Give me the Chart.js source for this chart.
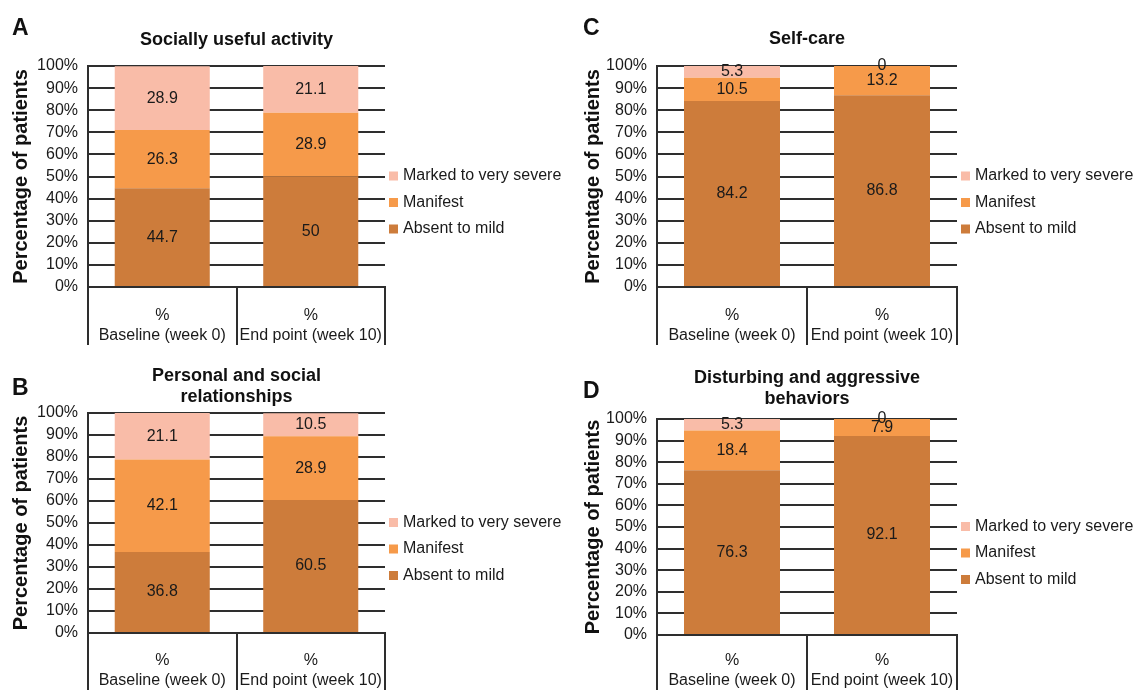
<!DOCTYPE html>
<html>
<head>
<meta charset="utf-8">
<title>Severity by domain</title>
<script src="https://cdn.jsdelivr.net/npm/chart.js@4.4.1/dist/chart.umd.min.js"></script>
<style>
  body { margin: 0; background: #fff; width: 1136px; height: 690px; position: relative; overflow: hidden; font-family: "Liberation Sans", Arial, sans-serif; }
  .panel { position: absolute; width: 568px; height: 345px; }
  .letter { position: absolute; font-weight: bold; font-size: 23px; line-height: 23px; color: #111; }
</style>
</head>
<body>
<div class="panel" style="left:0;top:0"><canvas id="chartA" width="568" height="345"></canvas></div>
<div class="panel" style="left:568px;top:0"><canvas id="chartC" width="568" height="345"></canvas></div>
<div class="panel" style="left:0;top:345px"><canvas id="chartB" width="568" height="345"></canvas></div>
<div class="panel" style="left:568px;top:345px"><canvas id="chartD" width="568" height="345"></canvas></div>
<div class="letter" style="left:12px;top:16px">A</div>
<div class="letter" style="left:583px;top:16px">C</div>
<div class="letter" style="left:12px;top:376px">B</div>
<div class="letter" style="left:583px;top:379px">D</div>

<script>
// categories and series (percent of patients)
const categories = ['Baseline (week 0)', 'End point (week 10)'];
const severityLabels = ['Absent to mild', 'Manifest', 'Marked to very severe'];

const socialAbsent = [44.7, 50];
const socialManifest = [26.3, 28.9];
const socialMarked = [28.9, 21.1];

const relationsAbsent = [36.8, 60.5];
const relationsManifest = [42.1, 28.9];
const relationsMarked = [21.1, 10.5];

const selfCareAbsent = [84.2, 86.8];
const selfCareManifest = [10.5, 13.2];
const selfCareMarked = [5.3, 0];

const behaviorAbsent = [76.3, 92.1];
const behaviorManifest = [18.4, 7.9];
const behaviorMarked = [5.3, 0];

const severityColors = ['#CD7C3B', '#F69A4A', '#F9BCA8'];
const FONT = '"Liberation Sans", Arial, sans-serif';
const INK = '#1a1a1a';
const LINE = '#2e2e2e';

Chart.defaults.font.family = FONT;
Chart.defaults.color = INK;

// numbers in the middle of each stacked segment
const valueLabels = {
  id: 'valueLabels',
  afterDatasetsDraw(chart) {
    const ctx = chart.ctx;
    ctx.save();
    ctx.font = '16px ' + FONT;
    ctx.fillStyle = INK;
    ctx.textAlign = 'center';
    ctx.textBaseline = 'middle';
    chart.data.datasets.forEach((ds, i) => {
      chart.getDatasetMeta(i).data.forEach((bar, j) => {
        ctx.fillText(String(ds.data[j]), bar.x, (bar.y + bar.base) / 2);
      });
    });
    ctx.restore();
  }
};

// legend to the right of the plot, top entry = last dataset
const sideLegend = {
  id: 'sideLegend',
  afterDraw(chart) {
    const { ctx, chartArea } = chart;
    const mid = (chartArea.top + chartArea.bottom) / 2 + 26;
    const x = chartArea.right + 4;
    ctx.save();
    ctx.font = '16px ' + FONT;
    ctx.textAlign = 'left';
    ctx.textBaseline = 'middle';
    chart.data.datasets.slice().reverse().forEach((ds, k) => {
      const y = mid + (k - 1) * 26.5;
      ctx.fillStyle = ds.backgroundColor;
      ctx.fillRect(x, y - 4.5, 9, 9);
      ctx.fillStyle = INK;
      ctx.fillText(ds.label, x + 14, y);
    });
    ctx.restore();
  }
};

function buildPanel(canvasId, title, titlePad, series, area) {
  const canvas = document.getElementById(canvasId);
  const boxHeight = canvas.height - area.bottom;

  return new Chart(canvas, {
    type: 'bar',
    data: {
      labels: categories.map(c => ['%', c]),
      datasets: series.map((values, i) => ({
        label: severityLabels[i],
        data: values,
        backgroundColor: severityColors[i],
        borderWidth: 0,
        categoryPercentage: 1,
        barPercentage: 0.64
      }))
    },
    options: {
      responsive: false,
      animation: false,
      layout: { padding: { left: 0, right: canvas.width - area.right, top: 0, bottom: 0 } },
      plugins: {
        legend: { display: false },
        tooltip: { enabled: false },
        title: {
          display: true,
          text: title,
          fullSize: false,
          align: 'center',
          color: '#111',
          font: { size: 18, weight: 'bold', lineHeight: '21px' },
          padding: { top: titlePad[0], bottom: titlePad[1] }
        }
      },
      scales: {
        x: {
          stacked: true,
          offset: true,
          grid: {
            offset: true,
            drawOnChartArea: false,
            drawTicks: true,
            tickLength: boxHeight,
            color: LINE,
            lineWidth: 2
          },
          border: { display: true, color: LINE, width: 2 },
          ticks: {
            autoSkip: false,
            maxRotation: 0,
            minRotation: 0,
            // labels sit inside the box drawn by the tick marks
            padding: -39,
            color: INK,
            font: { size: 16, lineHeight: '20px' }
          },
          afterFit(scale) { scale.height = boxHeight; }
        },
        y: {
          stacked: true,
          min: 0,
          max: 100,
          ticks: {
            stepSize: 10,
            autoSkip: false,
            padding: 10,
            color: INK,
            font: { size: 16, lineHeight: 1 },
            callback: v => v + '%'
          },
          grid: { color: LINE, lineWidth: 2, drawTicks: false },
          border: { display: true, color: LINE, width: 2 },
          title: {
            display: true,
            text: 'Percentage of patients',
            color: '#111',
            font: { size: 20, weight: 'bold' },
            padding: { top: area.yTitle - 12, bottom: 0 }
          },
          afterFit(scale) { scale.width = area.left; }
        }
      }
    },
    plugins: [valueLabels, sideLegend]
  });
}

buildPanel('chartA', 'Socially useful activity', [29.5, 15.5],
  [socialAbsent, socialManifest, socialMarked],
  { left: 88, right: 385, bottom: 287, yTitle: 21 });

buildPanel('chartC', 'Self-care', [28.5, 16.5],
  [selfCareAbsent, selfCareManifest, selfCareMarked],
  { left: 89, right: 389, bottom: 287, yTitle: 25 });

buildPanel('chartB', ['Personal and social', 'relationships'], [20.5, 5.5],
  [relationsAbsent, relationsManifest, relationsMarked],
  { left: 88, right: 385, bottom: 288, yTitle: 21 });

buildPanel('chartD', ['Disturbing and aggressive', 'behaviors'], [22.5, 9.5],
  [behaviorAbsent, behaviorManifest, behaviorMarked],
  { left: 89, right: 389, bottom: 290, yTitle: 25 });
</script>
</body>
</html>
